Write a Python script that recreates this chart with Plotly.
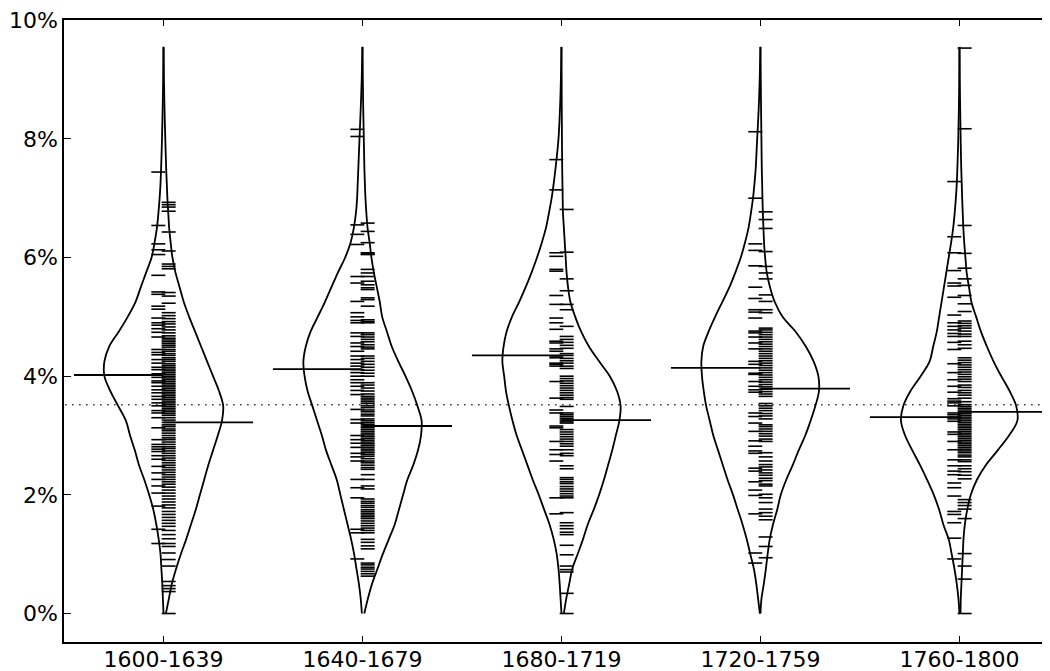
import plotly.graph_objects as go

CATEGORIES = ["1600-1639", "1640-1679", "1680-1719", "1720-1759", "1760-1800"]
Y_TICKS = [0, 2, 4, 6, 8, 10]
Y_TICK_TEXT = ["0%", "2%", "4%", "6%", "8%", "10%"]

# density envelope (relative to each side's own maximum), sampled at Y_GRID (%)
Y_GRID = [0, .25, .5, .75, 1, 1.25, 1.5, 1.75, 2, 2.25, 2.5, 2.75, 3, 3.25, 3.5, 3.75, 4, 4.25,
          4.5, 4.75, 5, 5.25, 5.5, 5.75, 6, 6.25, 6.5, 6.75, 7, 7.25, 7.5, 8, 8.5, 9, 9.55]

DENS_LEFT = [
    [0, .01, .02, .035, .05, .08, .12, .17, .24, .32, .41, .48, .56, .63, .76, .89, .99, .99, .91, .75,
     .60, .47, .38, .29, .20, .15, .11, .085, .065, .05, .04, .025, .014, .006, .002],
    [.01, .03, .06, .10, .14, .19, .25, .31, .37, .43, .52, .61, .68, .76, .84, .92, .97, .99, .95, .87,
     .75, .63, .52, .41, .29, .20, .145, .11, .09, .08, .07, .05, .03, .013, .003],
    [0, .015, .03, .05, .08, .13, .20, .29, .38, .48, .57, .66, .75, .82, .88, .93, .96, .99, .97, .92,
     .83, .71, .60, .50, .41, .33, .26, .21, .165, .13, .10, .05, .025, .01, .002],
    [.01, .04, .07, .11, .17, .23, .30, .38, .46, .55, .63, .71, .79, .85, .91, .95, .98, .99, .96, .87,
     .76, .64, .52, .42, .33, .26, .20, .16, .125, .10, .08, .055, .03, .013, .002],
    [0, .017, .045, .083, .13, .18, .27, .34, .43, .54, .66, .79, .91, .98, .94, .82, .65, .50, .44, .38,
     .34, .30, .26, .22, .18, .14, .105, .08, .06, .045, .035, .02, .01, .004, .001],
]
DENS_RIGHT = [
    [.04, .09, .14, .21, .29, .38, .46, .54, .61, .68, .75, .83, .91, .98, 1.0, .93, .83, .73, .63, .53,
     .43, .34, .27, .20, .15, .12, .095, .08, .065, .055, .045, .03, .017, .008, .003],
    [.03, .09, .16, .25, .34, .44, .54, .61, .68, .75, .85, .93, .98, .99, .92, .83, .72, .60, .49, .41,
     .33, .29, .24, .19, .15, .12, .085, .065, .05, .04, .032, .022, .013, .006, .002],
    [.04, .08, .13, .18, .27, .36, .44, .54, .63, .71, .78, .85, .91, .97, .99, .93, .81, .63, .46, .33,
     .23, .15, .11, .085, .07, .055, .04, .025, .02, .016, .012, .008, .005, .003, .001],
    [0, .017, .056, .09, .12, .155, .21, .28, .34, .43, .54, .64, .75, .84, .92, .98, .97, .89, .76, .59,
     .37, .24, .16, .105, .078, .06, .05, .04, .033, .028, .022, .016, .01, .005, .001],
    [.017, .022, .033, .044, .056, .067, .09, .13, .19, .29, .44, .64, .83, .97, .95, .84, .70, .57, .46, .36,
     .28, .20, .16, .12, .10, .08, .065, .055, .045, .038, .03, .02, .012, .006, .002],
]

# rug observations (%)
RUG_LEFT = [
    [7.44, 6.54, 6.23, 6.13, 6.05, 5.70, 5.42, 5.38, 5.18, 5.13, 4.98, 4.90, 4.86, 4.80, 4.74, 4.66,
     4.45, 4.40, 4.36, 4.28, 4.22, 4.15, 4.11, 4.04, 3.98, 3.92, 3.89, 3.83, 3.77, 3.72, 3.66, 3.61,
     3.55, 3.50, 3.42, 3.38, 3.30, 3.13, 2.93, 2.85, 2.81, 2.77, 2.73, 2.66, 2.60, 2.48, 2.37, 2.26,
     2.15, 2.03, 1.81, 1.42, 1.18],
    [8.16, 8.04, 6.55, 6.39, 6.22, 5.68, 5.57, 5.26, 5.07, 5.00, 4.94, 4.90, 4.73, 4.67, 4.56, 4.50,
     4.42, 4.34, 4.28, 4.22, 4.17, 4.11, 4.06, 4.00, 3.94, 3.89, 3.83, 3.76, 3.69, 3.44, 3.27, 3.21,
     3.00, 2.93, 2.87, 2.80, 2.70, 2.64, 2.57, 2.26, 2.12, 1.95, 1.42, 1.36, 0.92],
    [7.65, 7.14, 6.08, 6.02, 5.80, 5.77, 5.36, 5.21, 4.98, 4.90, 4.79, 4.59, 4.56, 4.46, 4.42, 4.34,
     4.31, 4.22, 4.20, 4.17, 3.91, 3.63, 3.43, 3.38, 3.16, 3.13, 2.90, 2.76, 2.68, 2.57, 1.95, 1.68],
    [8.12, 7.00, 6.23, 6.12, 5.86, 5.50, 5.31, 5.12, 5.08, 4.98, 4.76, 4.73, 4.66, 4.56, 4.46, 4.25,
     4.20, 4.05, 4.03, 3.91, 3.83, 3.77, 3.73, 3.38, 3.32, 3.21, 3.07, 2.91, 2.82, 2.74, 2.70, 2.45,
     2.40, 2.22, 2.08, 1.99, 1.68, 1.02, 0.85],
    [7.28, 6.35, 6.08, 5.78, 5.57, 5.52, 5.33, 5.03, 4.90, 4.84, 4.78, 4.72, 4.67, 4.57, 4.45, 4.21,
     4.06, 3.94, 3.83, 3.73, 3.62, 3.58, 3.55, 3.50, 3.38, 3.35, 3.31, 3.28, 3.24, 3.06, 3.02, 2.90,
     2.76, 2.59, 2.49, 2.40, 2.34, 2.20, 2.12, 1.98, 1.72, 1.67, 1.53, 1.27, 0.92],
]
RUG_RIGHT = [
    [6.93, 6.89, 6.85, 6.78, 6.43, 6.11, 5.89, 5.85, 5.81, 5.41, 5.35, 5.23, 5.07, 5.02, 4.97, 4.92,
     4.88, 4.83, 4.78, 4.73, 4.68, 4.64, 4.61, 4.58, 4.55, 4.52, 4.49, 4.45, 4.42, 4.38, 4.35, 4.31,
     4.28, 4.25, 4.21, 4.18, 4.15, 4.12, 4.09, 4.06, 4.03, 4.00, 3.97, 3.94, 3.91, 3.88, 3.85, 3.82,
     3.79, 3.76, 3.73, 3.70, 3.67, 3.64, 3.61, 3.58, 3.55, 3.52, 3.49, 3.46, 3.43, 3.40, 3.37, 3.34,
     3.30, 3.26, 3.22, 3.18, 3.15, 3.11, 3.08, 3.04, 3.00, 2.96, 2.93, 2.89, 2.85, 2.81, 2.78, 2.74,
     2.70, 2.66, 2.62, 2.58, 2.54, 2.50, 2.46, 2.42, 2.38, 2.34, 2.30, 2.26, 2.22, 2.18, 2.13, 2.08,
     2.03, 1.98, 1.93, 1.88, 1.83, 1.78, 1.72, 1.67, 1.62, 1.57, 1.52, 1.47, 1.40, 1.33, 1.26, 1.18,
     1.13, 1.02, 0.91, 0.80, 0.54, 0.47, 0.42, 0.37, 0.0],
    [6.58, 6.44, 6.25, 6.08, 6.06, 6.05, 5.80, 5.74, 5.68, 5.60, 5.54, 5.49, 5.46, 5.32, 5.29, 5.18,
     4.95, 4.92, 4.90, 4.73, 4.70, 4.66, 4.62, 4.58, 4.53, 4.49, 4.46, 4.34, 4.30, 4.25, 4.20, 4.15,
     4.10, 4.05, 4.00, 3.89, 3.85, 3.80, 3.75, 3.70, 3.66, 3.63, 3.60, 3.57, 3.54, 3.50, 3.47, 3.43,
     3.40, 3.36, 3.33, 3.28, 3.25, 3.22, 3.19, 3.16, 3.13, 3.10, 3.07, 3.04, 3.01, 2.98, 2.95, 2.92,
     2.89, 2.86, 2.83, 2.80, 2.77, 2.74, 2.71, 2.68, 2.65, 2.61, 2.57, 2.54, 2.50, 2.46, 2.43, 2.34,
     2.26, 2.15, 2.10, 1.93, 1.89, 1.86, 1.82, 1.79, 1.75, 1.72, 1.69, 1.66, 1.63, 1.60, 1.56, 1.52,
     1.48, 1.44, 1.40, 1.36, 1.25, 1.20, 1.14, 1.09, 0.85, 0.82, 0.78, 0.75, 0.71, 0.67, 0.63],
    [6.81, 6.09, 5.64, 5.44, 5.21, 5.12, 4.84, 4.67, 4.62, 4.57, 4.52, 4.47, 4.38, 4.35, 4.30, 4.26,
     4.22, 4.17, 4.13, 4.00, 3.96, 3.92, 3.88, 3.84, 3.80, 3.76, 3.72, 3.68, 3.64, 3.61, 3.49, 3.38,
     3.35, 3.32, 3.29, 3.26, 3.23, 3.21, 3.10, 3.06, 3.02, 2.98, 2.94, 2.90, 2.86, 2.82, 2.76, 2.70,
     2.66, 2.49, 2.44, 2.29, 2.26, 2.22, 2.19, 2.14, 2.10, 2.06, 2.02, 1.98, 1.95, 1.70, 1.53, 1.48,
     1.43, 1.37, 1.33, 1.15, 0.99, 0.80, 0.74, 0.70, 0.34, 0.0],
    [6.77, 6.64, 6.49, 6.10, 5.85, 5.74, 5.64, 5.37, 5.26, 5.12, 5.07, 4.81, 4.78, 4.74, 4.70, 4.66,
     4.62, 4.58, 4.54, 4.50, 4.46, 4.42, 4.38, 4.34, 4.30, 4.26, 4.22, 4.18, 4.14, 4.10, 4.06, 4.02,
     3.98, 3.94, 3.90, 3.86, 3.82, 3.78, 3.74, 3.70, 3.66, 3.54, 3.50, 3.46, 3.42, 3.37, 3.33, 3.28,
     3.18, 3.15, 3.11, 3.07, 3.03, 2.99, 2.94, 2.90, 2.71, 2.64, 2.57, 2.51, 2.47, 2.42, 2.37, 2.33,
     2.28, 2.24, 2.18, 2.15, 2.01, 1.95, 1.87, 1.76, 1.70, 1.64, 1.58, 1.29, 1.13, 0.94],
    [9.53, 8.17, 6.54, 6.07, 5.82, 5.64, 5.53, 5.36, 5.22, 5.09, 4.93, 4.89, 4.85, 4.81, 4.76, 4.71,
     4.67, 4.59, 4.53, 4.47, 4.31, 4.27, 4.23, 4.19, 4.15, 4.11, 4.07, 4.03, 3.99, 3.95, 3.91, 3.85,
     3.81, 3.76, 3.72, 3.68, 3.63, 3.57, 3.52, 3.49, 3.46, 3.43, 3.40, 3.37, 3.34, 3.31, 3.28, 3.25,
     3.22, 3.19, 3.16, 3.13, 3.10, 3.07, 3.04, 3.01, 2.98, 2.95, 2.92, 2.89, 2.86, 2.83, 2.80, 2.77,
     2.74, 2.71, 2.67, 2.64, 2.59, 2.56, 2.49, 2.44, 2.39, 2.33, 2.27, 1.92, 1.87, 1.82, 1.76, 1.60,
     1.01, 0.80, 0.58, 0.0],
]

LEFT_MEANS = [4.02, 4.12, 4.35, 4.14, 3.31]
RIGHT_MEANS = [3.22, 3.16, 3.26, 3.79, 3.40]
OVERALL_MEAN = 3.52

# styling constants
HALF_WIDTH = 0.30     # max half-width of each bean side (data units)
MEAN_LEN = 0.45       # length of the mean lines
RUG_OFF = 0.026       # rug tick centre offset from bean centre
LINE_W = 1.8

fig = go.Figure()

# overall mean (dotted)
fig.add_trace(go.Scatter(x=[-0.6, 4.6], y=[OVERALL_MEAN, OVERALL_MEAN], mode="lines",
                         line=dict(color="#333333", width=1.5, dash="1.5px,5.5px"),
                         hoverinfo="skip"))

for i, cat in enumerate(CATEGORIES):
    pos = i
    # rug ticks
    fig.add_trace(go.Scatter(x=[pos - RUG_OFF] * len(RUG_LEFT[i]), y=RUG_LEFT[i], mode="markers",
                             marker=dict(symbol="line-ew", size=10,
                                         line=dict(color="black", width=1.6)),
                             hoverinfo="y"))
    fig.add_trace(go.Scatter(x=[pos + RUG_OFF] * len(RUG_RIGHT[i]), y=RUG_RIGHT[i], mode="markers",
                             marker=dict(symbol="line-ew", size=10,
                                         line=dict(color="black", width=1.6)),
                             hoverinfo="y"))
    # density envelopes
    fig.add_trace(go.Scatter(x=[pos - HALF_WIDTH * d for d in DENS_LEFT[i]], y=Y_GRID,
                             mode="lines", line=dict(color="black", width=LINE_W, shape="spline"),
                             hoverinfo="skip"))
    fig.add_trace(go.Scatter(x=[pos + HALF_WIDTH * d for d in DENS_RIGHT[i]], y=Y_GRID,
                             mode="lines", line=dict(color="black", width=LINE_W, shape="spline"),
                             hoverinfo="skip"))
    # mean lines
    fig.add_trace(go.Scatter(x=[pos - MEAN_LEN, pos], y=[LEFT_MEANS[i]] * 2, mode="lines",
                             line=dict(color="black", width=LINE_W), hoverinfo="y"))
    fig.add_trace(go.Scatter(x=[pos, pos + MEAN_LEN], y=[RIGHT_MEANS[i]] * 2, mode="lines",
                             line=dict(color="black", width=LINE_W), hoverinfo="y"))

# the page body adds an 8px margin, so the figure is sized to fit the 1050x671 window
fig.update_layout(
    width=1042, height=663,
    margin=dict(l=56, r=0, t=12, b=29),
    plot_bgcolor="white", paper_bgcolor="white",
    showlegend=False,
    font=dict(family="DejaVu Sans", size=22, color="black"),
)
fig.update_xaxes(range=[-0.5, 4.455], tickmode="array", tickvals=list(range(len(CATEGORIES))),
                 ticktext=CATEGORIES, ticks="inside", ticklen=6, tickwidth=1, tickcolor="black",
                 showline=True, linecolor="black", linewidth=1.5, mirror="ticks",
                 showgrid=False, zeroline=False, automargin=False,
                 ticklabeloverflow="allow", ticklabelstandoff=-3)
fig.update_yaxes(range=[-0.48, 10.003], tickmode="array", tickvals=Y_TICKS, ticktext=Y_TICK_TEXT,
                 ticks="inside", ticklen=7, tickwidth=1, tickcolor="black",
                 showline=True, linecolor="black", linewidth=1.5, mirror=False,
                 showgrid=False, zeroline=False, automargin=False,
                 ticklabeloverflow="allow")

fig.write_html("out.html")
